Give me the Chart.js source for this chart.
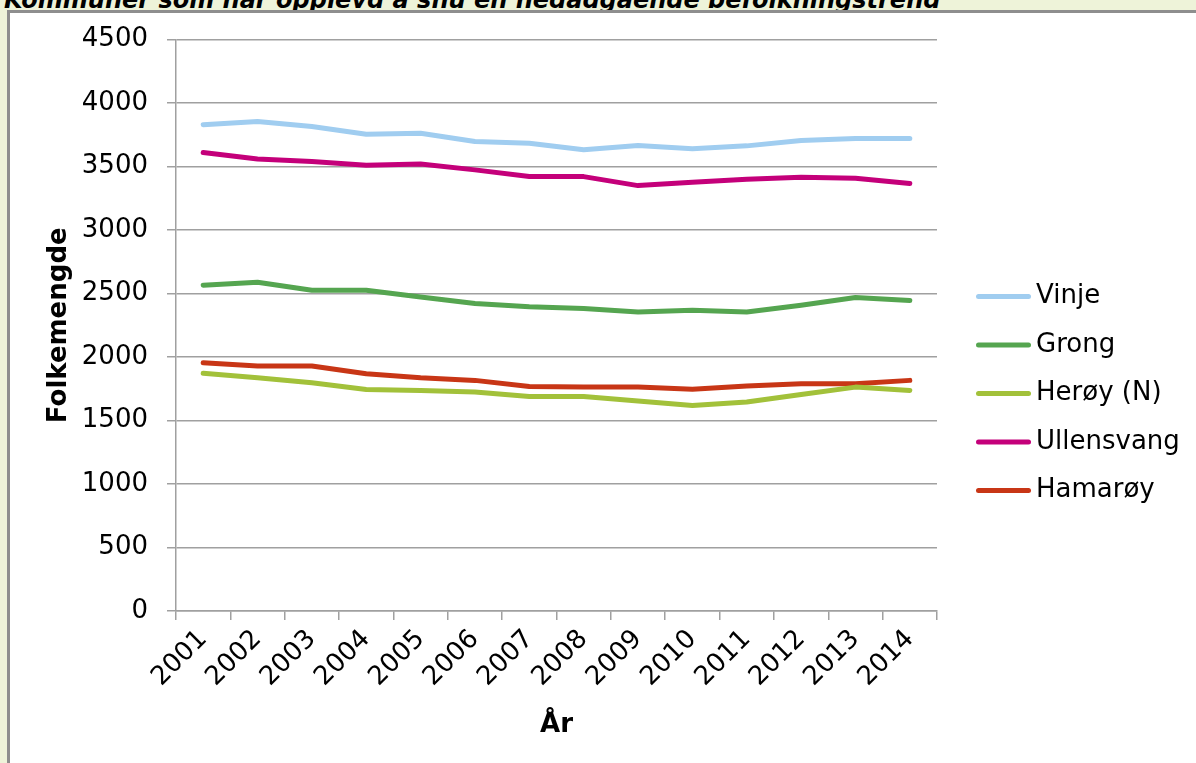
<!DOCTYPE html>
<html lang="no">
<head>
    <meta charset="UTF-8">
    <title>Folkemengde</title>
    <script src="https://cdn.jsdelivr.net/npm/chart.js"></script>
    <style>
        body {
            margin: 0;
            width: 1196px;
            height: 763px;
            overflow: hidden;
            position: relative;
            background-color: #eef3d9;
            font-family: "DejaVu Sans", Verdana, sans-serif;
        }
        .title {
            position: absolute;
            left: 4px;
            top: -12px;
            font-size: 24px;
            line-height: 24px;
            font-weight: bold;
            font-style: italic;
            white-space: nowrap;
            color: #000;
        }
        .frame {
            position: absolute;
            left: 7px;
            top: 10px;
            width: 1200px;
            height: 760px;
            background-color: white;
            border-left: 3px solid #8e8e8e;
            border-top: 3px solid #8e8e8e;
        }
        /* canvas starts a little above the frame so the plot top lands at the 4500 line */
        .chart-box {
            position: absolute;
            left: 0;
            top: -8px;
            width: 1186px;
            height: 758px;
        }
    </style>
</head>
<body>

    <div class="title">Kommuner som har opplevd å snu en nedadgående befolkningstrend</div>
    <div class="frame">
        <div class="chart-box">
            <canvas id="popChart"></canvas>
        </div>
    </div>

    <script>
        const years = ['2001', '2002', '2003', '2004', '2005', '2006', '2007',
                       '2008', '2009', '2010', '2011', '2012', '2013', '2014'];

        const vinje      = [3830, 3855, 3815, 3755, 3763, 3697, 3684, 3632, 3665, 3640, 3663, 3705, 3721, 3721];
        const grong      = [2566, 2589, 2526, 2526, 2473, 2421, 2395, 2382, 2355, 2368, 2355, 2408, 2468, 2445];
        const heroy      = [1873, 1837, 1797, 1745, 1737, 1724, 1689, 1689, 1653, 1618, 1645, 1705, 1763, 1737];
        const ullensvang = [3611, 3560, 3539, 3511, 3521, 3474, 3421, 3421, 3350, 3376, 3400, 3416, 3408, 3366];
        const hamaroy    = [1955, 1929, 1929, 1868, 1837, 1816, 1768, 1763, 1763, 1747, 1771, 1789, 1789, 1816];

        const yMin = 0;
        const yMax = 4500;
        const yStep = 500;

        const font = '"DejaVu Sans", Verdana, sans-serif';
        const gridColor = '#a0a0a0';

        function series(label, data, color) {
            return {
                label: label,
                data: data,
                borderColor: color,
                backgroundColor: color,
                borderWidth: 5,
                pointRadius: 0,
                tension: 0,
                borderJoinStyle: 'round',
                borderCapStyle: 'round',
                fill: false
            };
        }

        // legend drawn to the right of the plot, like the Excel one
        const sideLegend = {
            id: 'sideLegend',
            afterDraw(chart) {
                const ctx = chart.ctx;
                const area = chart.chartArea;
                ctx.save();
                ctx.font = '26px ' + font;
                ctx.textBaseline = 'middle';
                ctx.textAlign = 'left';
                ctx.lineWidth = 5;
                ctx.lineCap = 'round';
                chart.data.datasets.forEach((ds, i) => {
                    const x = area.left + area.width + 41.5;
                    const y = area.top + 257 + i * 48.5;
                    ctx.strokeStyle = ds.borderColor;
                    ctx.beginPath();
                    ctx.moveTo(x, y);
                    ctx.lineTo(x + 50, y);
                    ctx.stroke();
                    ctx.fillStyle = '#000';
                    ctx.fillText(ds.label, x + 57.5, y);
                });
                ctx.restore();
            }
        };

        const ctx = document.getElementById('popChart').getContext('2d');

        const popChart = new Chart(ctx, {
            type: 'line',
            data: {
                labels: years,
                datasets: [
                    series('Vinje', vinje, '#a0cdf0'),
                    series('Grong', grong, '#55a550'),
                    series('Herøy (N)', heroy, '#a2c13a'),
                    series('Ullensvang', ullensvang, '#c4007a'),
                    series('Hamarøy', hamaroy, '#c83616')
                ]
            },
            options: {
                responsive: true,
                maintainAspectRatio: false,
                animation: false,
                layout: {
                    padding: { left: 30, top: 20, right: 259, bottom: 18 }
                },
                plugins: {
                    legend: { display: false },
                    tooltip: { enabled: false }
                },
                scales: {
                    x: {
                        offset: true,
                        grid: {
                            offset: true,
                            drawOnChartArea: false,
                            color: gridColor,
                            lineWidth: 1.5,
                            tickLength: 9
                        },
                        border: { color: gridColor, width: 1.5 },
                        ticks: {
                            color: '#000',
                            font: { family: font, size: 26 },
                            minRotation: 45,
                            maxRotation: 45,
                            autoSkip: false,
                            padding: 4
                        },
                        title: {
                            display: true,
                            text: 'År',
                            color: '#000',
                            padding: { top: 13, bottom: 4 },
                            font: { family: font, size: 26, weight: 'bold' }
                        }
                    },
                    y: {
                        min: yMin,
                        max: yMax,
                        // fixed axis width so the plot starts where the Excel one does
                        afterFit: (scale) => { scale.width = 136; },
                        grid: {
                            color: gridColor,
                            lineWidth: 1.5,
                            tickLength: 9
                        },
                        border: { color: gridColor, width: 1.5 },
                        ticks: {
                            stepSize: yStep,
                            color: '#000',
                            font: { family: font, size: 26 },
                            padding: 19,
                            callback: (value) => String(value)
                        },
                        title: {
                            display: true,
                            text: 'Folkemengde',
                            color: '#000',
                            padding: { top: 4, bottom: 0 },
                            font: { family: font, size: 26, weight: 'bold' }
                        }
                    }
                }
            },
            plugins: [sideLegend]
        });
    </script>

</body>
</html>
